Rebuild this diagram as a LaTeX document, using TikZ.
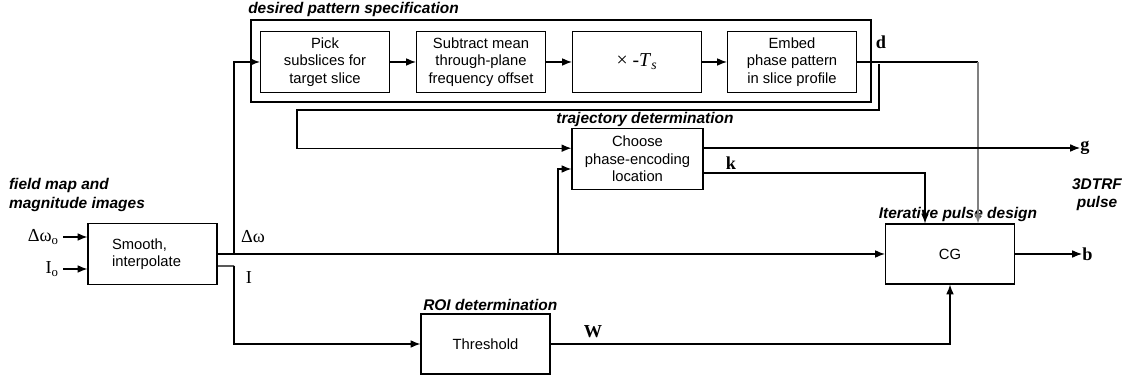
\documentclass[tikz,border=0pt]{standalone}
\usepackage{fontspec}
\setmainfont{Liberation Sans}
\newfontfamily\sigfont{Liberation Serif}
\usetikzlibrary{arrows.meta}

\tikzset{
  block/.style={draw, line width=0.8pt, minimum width=3.225cm, minimum height=1.525cm,
    align=center, inner sep=1pt, font=\fontsize{10.5}{12.5}\selectfont},
  tag/.style={font=\fontsize{11}{13}\selectfont\bfseries\itshape, inner sep=0pt},
  sig/.style={font=\fontsize{13}{15}\sigfont, inner sep=0pt},
  bsig/.style={font=\fontsize{13}{15}\sigfont\bfseries, inner sep=0pt},
  wire/.style={line width=0.8pt},
  flow/.style={wire, -{Latex[length=7pt,width=5.5pt]}},
}

\begin{document}
\begin{tikzpicture}[x=0.025cm, y=-0.025cm]

  \useasboundingbox (0,0) rectangle (1131,379);

  % desired pattern specification
  \draw[wire] (251,20) rectangle (871,102);
  \node[tag, anchor=south west] (patlbl) at (248,17) {desired pattern specification};
  \node[block] (pick) at (325,62) {Pick\\subslices for\\target slice};
  \node[block] (sub) at (481,62) {Subtract mean\\through-plane\\frequency offset};
  \node[block] (ts) at (637,62) {\fontsize{14}{16}\sigfont × -\textit{T}\textsubscript{\textit{s}}};
  \node[block] (embed) at (792,62) {Embed\\phase pattern\\in slice profile};
  \draw[flow] (pick) -- (sub);
  \draw[flow] (sub) -- (ts);
  \draw[flow] (ts) -- (embed);
  \node[bsig] (d) at (881,42) {d};

  % trajectory determination
  \node[block, minimum width=3.275cm] (choose) at (637.5,159) {Choose\\phase-encoding\\location};
  \node[tag] (trajlbl) at (645,120) {trajectory determination};

  % field map input
  \node[tag, align=left] (fmlbl) at (77,195) {field map and\\magnitude images};
  \node[block, align=left] (smooth) at (152.5,254) {Smooth,\\interpolate\hspace*{0.3cm}};
  \node[sig, anchor=east] (dw0) at (59,237) {Δω\textsubscript{o}};
  \node[sig, anchor=east] (I0) at (59,269) {I\textsubscript{o}};
  \draw[flow] ([xshift=3pt]dw0.east) -- (dw0.east -| smooth.west);
  \draw[flow] ([xshift=3pt]I0.east) -- (I0.east -| smooth.west);

  % ROI determination
  \node[block, minimum height=1.5cm] (thr) at (485.5,344) {Threshold};
  \node[tag, anchor=south west] (roilbl) at (423,311) {ROI determination};

  % iterative pulse design
  \node[block, minimum height=1.5cm] (cg) at (950,254) {CG};
  \node[tag] (cglbl) at (958,215) {Iterative pulse design};
  \node[tag, align=center] (outlbl) at (1097,195) {3DTRF\\pulse};

  % signal labels
  \node[sig] (dwlbl) at (253,237) {Δω};
  \node[sig] (Ilbl) at (249,278) {I};
  \node[bsig] (Wlbl) at (593,332) {W};
  \node[bsig] (klbl) at (731,163) {k};
  \node[bsig, anchor=west] (g) at (1080,148) {g};
  \node[bsig, anchor=west] (b) at (1082,254) {b};

  % junctions
  \coordinate (dwsplit) at (234,254);
  \coordinate (dwsplit2) at (558,254);
  \coordinate (Icorner) at (234,266);
  \coordinate (dtap) at (879,64);
  \coordinate (dturn) at (297,110);
  \coordinate (dcorner) at (978,62);

  % delta omega
  \draw[flow] (smooth.east) -- (cg.west);
  \draw[flow] (dwsplit) |- (pick.west);
  \draw[flow] (dwsplit2) |- ([yshift=-0.25cm]choose.west);

  % I
  \draw[wire] ([yshift=-0.3cm]smooth.east) -- (Icorner);
  \draw[flow] (Icorner) |- (thr.west);

  % d
  \draw[wire] (embed.east) -- (dcorner);
  \draw[flow] (dtap) |- (dturn) |- ([yshift=0.27cm]choose.west);
  \draw[flow, gray] (dcorner) -- (dcorner |- cg.north);

  % k, g, W, b
  \draw[flow] ([yshift=-0.35cm]choose.east) -| ([xshift=-0.625cm]cg.north);
  \draw[flow] (choose.east |- g) -- (g.west);
  \draw[flow] (thr.east) -| (cg.south);
  \draw[flow] (cg.east) -- (b.west);

\end{tikzpicture}
\end{document}
